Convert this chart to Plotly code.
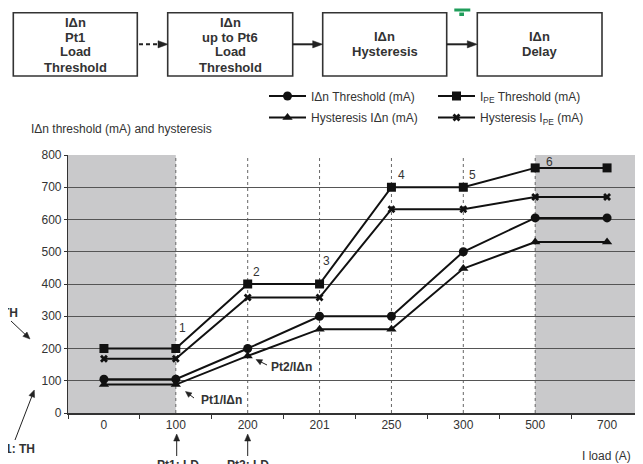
import math
import plotly.graph_objects as go

# ---------------- data ----------------
x_labels = ["0", "100", "200", "201", "250", "300", "500", "700"]
idn_threshold = [105, 105, 200, 300, 300, 500, 605, 605]
hyst_idn = [88, 88, 177, 260, 260, 448, 530, 530]
ipe_threshold = [200, 200, 400, 400, 700, 700, 760, 760]
hyst_ipe = [168, 168, 358, 358, 632, 632, 670, 670]
point_labels = ["1", "2", "3", "4", "5", "6"]
y_ticks = [0, 100, 200, 300, 400, 500, 600, 700, 800]

# page offset (browser body margin) -> figure drawn from page (8, 8)
OFF = 8
W, H = 643 - OFF, 464 - OFF
L, R, T, B = 68, 643, 155, 413          # plot area in page pixels
FONT = "Liberation Sans, Arial, Helvetica, sans-serif"
TXT = "#333333"


def px(x):
    return (x - L) / (R - L)


def py(y):
    return (B - y) / (B - T)


fig = go.Figure()

series = [
    ("I\u0394n Threshold (mA)", idn_threshold, "circle", 9, "legend"),
    ("I<sub>PE</sub> Threshold (mA)", ipe_threshold, "square", 9, "legend"),
    ("Hysteresis I\u0394n (mA)", hyst_idn, "triangle-up", 9, "legend2"),
    ("Hysteresis I<sub>PE</sub> (mA)", hyst_ipe, "x", 7, "legend2"),
]
for name, vals, sym, size, lg in series:
    fig.add_trace(go.Scatter(
        x=x_labels, y=vals, name=name, mode="lines+markers",
        line=dict(color="#111111", width=2),
        marker=dict(symbol=sym, size=size, color="#111111"),
        legend=lg, cliponaxis=False,
    ))

# gray shaded zones
fig.add_shape(type="rect", xref="x", yref="paper", x0=-0.5, x1=x_labels.index("100"),
              y0=0, y1=1, fillcolor="#c9c9cb", line=dict(width=0), layer="below")
fig.add_shape(type="rect", xref="x", yref="paper", x0=x_labels.index("500"), x1=7.5,
              y0=0, y1=1, fillcolor="#c9c9cb", line=dict(width=0), layer="below")
# dotted verticals at points
for c in x_labels[1:7]:
    i = x_labels.index(c)
    fig.add_shape(type="line", xref="x", yref="paper", x0=i, x1=i, y0=0, y1=1,
                  line=dict(color="#666666", width=1, dash="dot"), layer="below")

# point numbers
shifts = [(7, 21), (9, 12), (7, 23), (10, 12), (9, 12), (14, 6)]
for k, lab in enumerate(point_labels):
    i = k + 1
    fig.add_annotation(x=i, y=ipe_threshold[i], xref="x", yref="y", text=lab,
                       showarrow=False, xshift=shifts[k][0], yshift=shifts[k][1],
                       xanchor="center", yanchor="middle",
                       font=dict(family=FONT, size=12, color=TXT))


def arrow(tail, tip, hl=7.0, hw=3.0, color="#222222", width=1.0, dash="solid"):
    (tx, ty), (hx, hy) = tail, tip
    d = math.hypot(hx - tx, hy - ty)
    ux, uy = (hx - tx) / d, (hy - ty) / d
    bx, by = hx - ux * hl, hy - uy * hl
    nx, ny = -uy, ux
    fig.add_shape(type="line", xref="paper", yref="paper",
                  x0=px(tx), y0=py(ty), x1=px(bx + ux * 1.0), y1=py(by + uy * 1.0),
                  line=dict(color=color, width=width, dash=dash))
    path = "M {:.5f} {:.5f} L {:.5f} {:.5f} L {:.5f} {:.5f} Z".format(
        px(hx), py(hy), px(bx + nx * hw), py(by + ny * hw), px(bx - nx * hw), py(by - ny * hw))
    fig.add_shape(type="path", xref="paper", yref="paper", path=path,
                  fillcolor=color, line=dict(color=color, width=0.5))


# ---------------- flow chart ----------------
boxes = [
    (13.3, 137.3, ["I\u0394n", "Pt1", "Load", "Threshold"]),
    (167.7, 292.7, ["I\u0394n", "up to Pt6", "Load", "Threshold"]),
    (322.7, 446.7, ["I\u0394n", "Hysteresis"]),
    (477.3, 602.0, ["I\u0394n", "Delay"]),
]
for x0, x1, lines in boxes:
    fig.add_shape(type="rect", xref="paper", yref="paper", x0=px(x0), x1=px(x1),
                  y0=py(76), y1=py(12.7), line=dict(color="#333333", width=1.6),
                  fillcolor="white")
    ys = [22, 37, 52, 67] if len(lines) == 4 else [36.5, 51.5]
    for yy, t in zip(ys, lines):
        fig.add_annotation(x=px((x0 + x1) / 2), y=py(yy), xref="paper", yref="paper",
                           text=t, showarrow=False, xanchor="center", yanchor="middle",
                           font=dict(family=FONT, size=13, color=TXT, weight="bold"))

# connecting arrows
arrow((139, 44.3), (168, 44.3), hl=10, hw=3.6, width=2, dash="4px,3px")
arrow((292.7, 44.3), (322.7, 44.3), hl=10, hw=3.6, width=2)
arrow((446.7, 44.3), (477.3, 44.3), hl=10, hw=3.6, width=2)

# green mark
fig.add_shape(type="rect", xref="paper", yref="paper", x0=px(454.3), x1=px(470.3),
              y0=py(11.5), y1=py(8.5), fillcolor="#1f9d5a", line=dict(width=0))
fig.add_shape(type="rect", xref="paper", yref="paper", x0=px(459.3), x1=px(464),
              y0=py(16), y1=py(12.5), fillcolor="#1f9d5a", line=dict(width=0))

# ---------------- text annotations ----------------
fig.add_annotation(x=px(29), y=py(129), xref="paper", yref="paper", xanchor="left",
                   yanchor="middle", text="I\u0394n threshold (mA) and hysteresis",
                   showarrow=False, font=dict(family=FONT, size=12, color=TXT))
fig.add_annotation(x=px(633), y=py(456), xref="paper", yref="paper", xanchor="right",
                   yanchor="middle", text="I load (A)", showarrow=False,
                   font=dict(family=FONT, size=12, color=TXT))

bold_labels = [
    ("Pt2/I\u0394n", 269, 367, "left"),
    ("Pt1/I\u0394n", 199, 400, "left"),
    ("Pt1: LD", 178, 465, "center"),
    ("Pt2: LD", 248, 465, "center"),
    ("Pt1: TH", 37, 449, "right"),
    ("Pt2: TH", 20, 313, "right"),
]
for t, xx, yy, anc in bold_labels:
    fig.add_annotation(x=px(xx), y=py(yy), xref="paper", yref="paper", xanchor=anc,
                       yanchor="middle", text=t, showarrow=False,
                       font=dict(family=FONT, size=12, color=TXT, weight="bold"))

# pointer arrows
arrow((267, 365), (256, 359.5), hl=6, hw=2.8)
arrow((194, 398), (185.5, 391.5), hl=6, hw=2.8)
arrow((176.7, 456), (176.7, 434), hl=7, hw=3)
arrow((247.7, 456), (247.7, 434), hl=7, hw=3)
arrow((15, 440), (34.3, 390), hl=7, hw=3)
arrow((11, 321), (30, 339), hl=7, hw=3)

# ---------------- layout ----------------
leg_common = dict(orientation="h", xanchor="left", yanchor="middle",
                  font=dict(family=FONT, size=12, color=TXT), itemwidth=37,
                  entrywidth=117, entrywidthmode="pixels", bgcolor="rgba(0,0,0,0)",
                  borderwidth=0, itemclick=False)
fig.update_layout(
    width=W, height=H,
    margin=dict(l=L - OFF, r=W - (R - OFF), t=T - OFF, b=H - (B - OFF), pad=0),
    plot_bgcolor="white", paper_bgcolor="white",
    font=dict(family=FONT, size=12, color=TXT),
    legend=dict(x=px(264), y=py(96), **leg_common),
    legend2=dict(x=px(264), y=py(117.5), **leg_common),
    showlegend=True,
    xaxis=dict(type="category", categoryorder="array", categoryarray=x_labels,
               range=[-0.5, 7.5], tickson="boundaries", ticks="outside", ticklen=4,
               tickcolor="#333333", showgrid=False, showline=True, linecolor="#333333",
               linewidth=1.5, tickfont=dict(family=FONT, size=12, color=TXT),
               fixedrange=True),
    yaxis=dict(range=[0, 800], tickvals=y_ticks, ticks="outside", ticklen=3,
               tickcolor="#333333", showgrid=True, gridcolor="#555555", gridwidth=1,
               zeroline=False, showline=True, linecolor="#333333", linewidth=1.2,
               tickfont=dict(family=FONT, size=12, color=TXT), fixedrange=True),
)

fig.write_html("out.html")
